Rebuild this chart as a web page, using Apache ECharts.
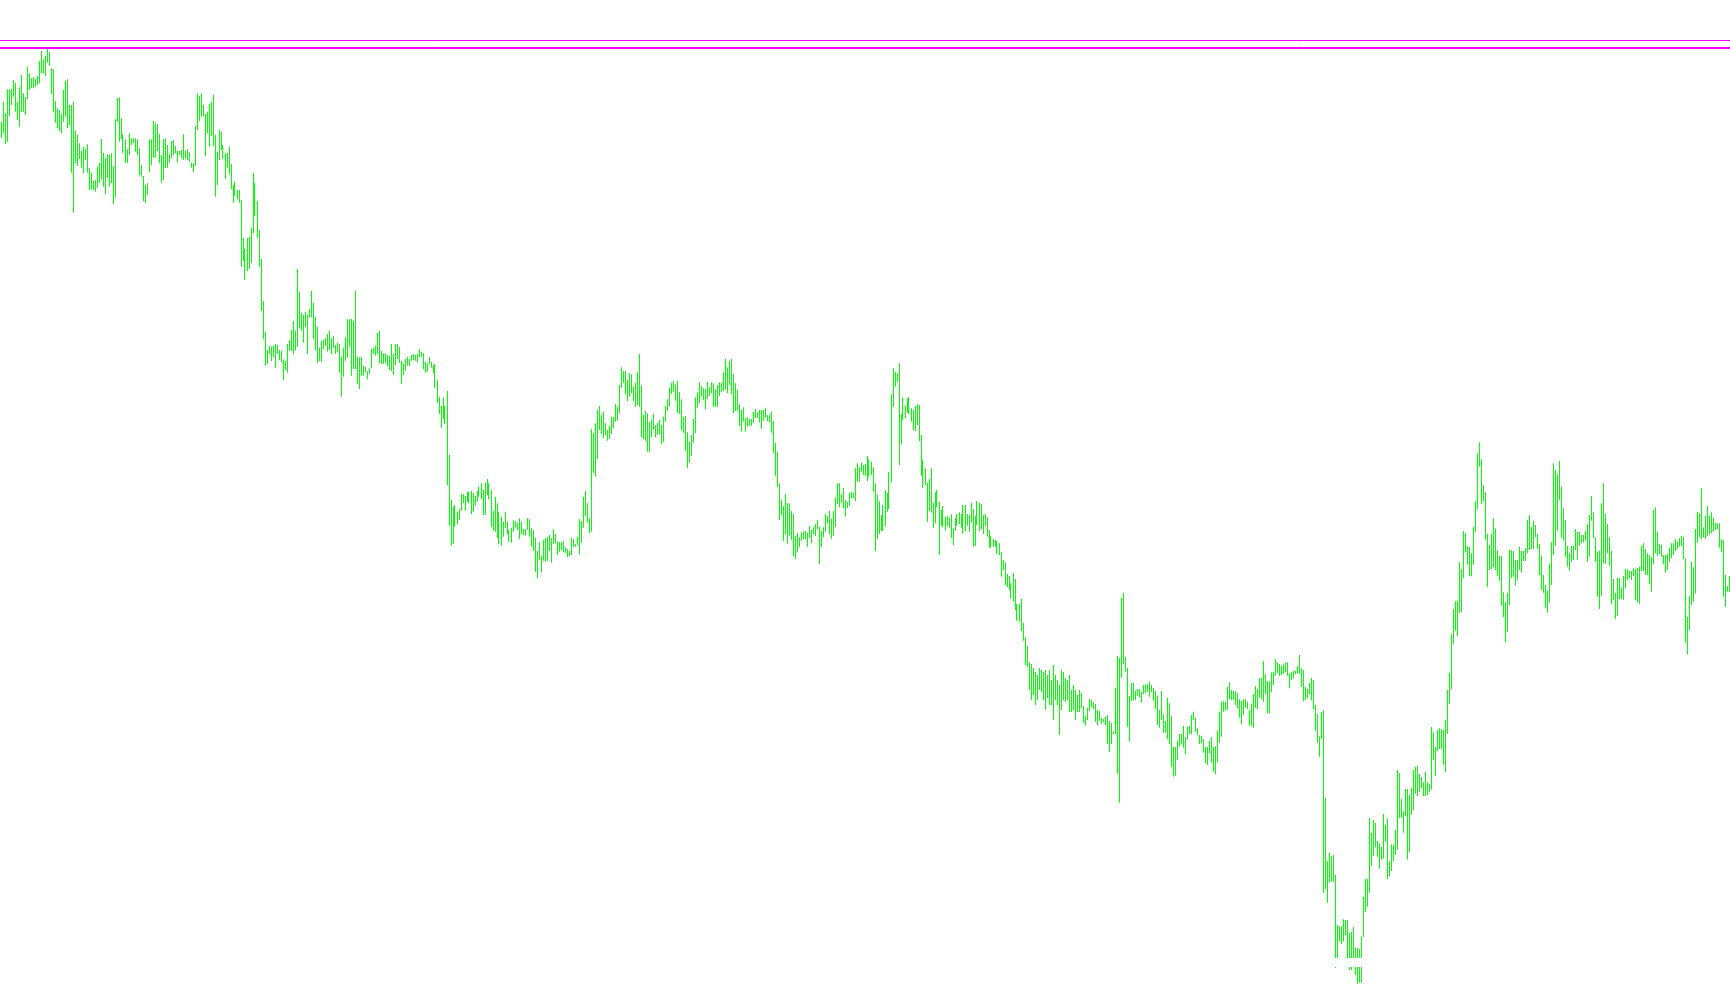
<!DOCTYPE html>
<html>
<head>
<meta charset="utf-8">
<script src="https://cdn.jsdelivr.net/npm/echarts/dist/echarts.min.js"></script>
<style>
html,body{margin:0;padding:0;background:#ffffff;overflow:hidden}
#chart{width:1730px;height:1005px}
</style>
</head>
<body>
<div id="chart"></div>
<script>
// Bar highs (price units, 0..3015 scale)
const barHigh = [
2650,2710,2675,2747,2747,2747,2775,2767,2710,2753,
2790,2735,2723,2815,2795,2780,2783,2779,2787,2832,
2862,2837,2847,2868,2858,2810,2807,2712,2690,2685,
2673,2745,2772,2777,2700,2700,2710,2623,2610,2585,
2562,2575,2570,2582,2512,2497,2472,2475,2515,2527,
2598,2557,2540,2552,2550,2555,2517,2657,2720,2723,
2660,2612,2597,2567,2615,2600,2600,2600,2597,2570,
2520,2487,2460,2465,2597,2597,2652,2645,2642,2613,
2550,2597,2600,2580,2552,2592,2595,2577,2562,2562,
2565,2612,2562,2567,2558,2527,2525,2637,2735,2727,
2735,2700,2673,2680,2703,2710,2730,2610,
2560,2625,2620,2580,2555,2557,2575,2523,2460,2470,
2445,2445,2415,2302,2268,2302,2305,2332,2497,2467,
2413,2325,2238,2112,2020,1965,1978,1975,1978,1983,
1980,1965,1962,1937,1932,1983,1995,2025,2052,2023,
2208,2140,2077,2070,2080,2070,2088,2143,2107,2065,
2035,1972,1993,1995,2002,2013,2023,2000,2007,1980,
1987,1983,1945,1972,2002,2057,2057,2058,2053,2143,
1945,1943,1945,1918,1915,1902,1910,1968,1972,1978,
2017,2023,1962,1955,1955,1950,1947,1983,1953,1983,
1983,1975,1932,1925,1938,1945,1938,1950,1953,1950,
1953,1968,1960,1955,1930,1925,1945,1930,
1920,1923,1875,1825,1797,1823,1797,1842,1650,1515,
1495,1500,1480,1487,1533,1533,1527,1540,1540,1542,
1537,1527,1543,1555,1565,1545,1567,1578,1565,1545,
1483,1525,1505,1480,1465,1450,1480,1450,1425,1432,
1455,1452,1445,1460,1450,1428,1428,1460,1457,1430,
1425,1402,1363,1390,1347,1395,1400,1405,1410,1400,
1427,1413,1390,1390,1388,1392,1373,1368,1363,1402,
1397,1383,1405,1458,1452,1525,1542,1505,1460,1728,
1717,1745,1785,1797,1770,1780,1745,1725,1737,1765,
1763,1803,1795,1860,1913,1902,1902,1875,1895,1892,
1855,1867,1898,1953,1858,1770,1783,1775,
1748,1755,1773,1740,1747,1755,1740,1765,1797,1817,
1852,1867,1872,1862,1872,1838,1817,1763,1767,1718,
1690,1710,1758,1823,1838,1868,1858,1850,1847,1870,
1853,1868,1865,1847,1860,1868,1867,1898,1938,1913,
1932,1938,1893,1865,1845,1802,1785,1793,1760,1763,
1758,1758,1780,1788,1778,1785,1785,1785,1792,1770,
1770,1780,1752,1687,1660,1565,1515,1498,1532,1505,
1505,1482,1473,1407,1417,1403,1418,1420,1422,1417,
1437,1425,1433,1443,1455,1435,1422,1433,1473,1467,
1482,1458,1482,1522,1565,1565,1532,1552,1515,1510,
1537,1540,1537,1610,1625,1613,1628,1620,
1623,1647,1637,1630,1613,1565,1532,1512,1470,1500,
1545,1537,1600,1832,1910,1900,1895,1925,1772,1823,
1797,1820,1823,1790,1785,1797,1802,1800,1710,1635,
1610,1567,1578,1610,1507,1538,1545,1510,1485,1497,
1465,1467,1462,1472,1430,1460,1473,1478,1472,1500,
1500,1473,1470,1507,1488,1467,1512,1507,1503,1470,
1473,1463,1425,1407,1398,1395,1392,1385,1358,1335,
1328,1293,1287,1265,1297,1278,1203,1203,1218,1147,
1103,1077,1029,1023,1011,999,990,1011,1005,999,
1005,990,1005,975,1020,990,975,960,1005,999,
981,975,990,945,960,945,930,945,
937,897,867,892,918,915,910,903,885,882,
862,858,865,870,852,847,820,952,1048,1042,
1222,1237,1045,1012,927,967,967,943,948,948,
940,960,962,962,970,960,952,942,928,885,
942,872,852,922,905,867,775,775,793,813,
813,838,803,835,838,870,880,862,830,810,
808,798,775,775,792,803,775,777,823,880,
910,912,910,955,968,945,943,942,935,917,
912,917,917,910,885,904,933,957,947,982,
982,1032,992,972,970,998,998,1038,1028,1023,
1017,1022,1028,1028,995,998,1003,1002,
1016,1050,1010,1005,954,948,967,982,975,900,
873,806,879,884,621,432,457,447,450,391,
241,236,236,257,255,255,216,220,234,171,
171,168,206,324,378,378,562,516,555,546,
493,485,474,573,541,560,431,482,480,525,
705,696,618,581,648,648,630,651,705,715,
718,693,684,668,699,668,664,834,818,775,
825,830,827,825,855,945,996,1112,1187,1211,
1213,1329,1307,1422,1416,1377,1374,1355,1434,1511,
1655,1688,1637,1559,1538,1414,1380,1414,1460,1430,
1364,1347,1347,1238,1208,1235,1366,1364,
1362,1335,1335,1375,1362,1362,1370,1455,1470,1433,
1452,1440,1413,1383,1347,1290,1260,1242,1323,1388,
1625,1605,1592,1632,1555,1490,1455,1377,1355,1377,
1377,1428,1420,1420,1410,1410,1422,1443,1470,1527,
1478,1403,1360,1363,1505,1565,1473,1443,1403,1363,
1278,1237,1282,1282,1252,1287,1307,1307,1302,1303,
1310,1308,1312,1315,1377,1385,1368,1355,1350,1343,
1485,1493,1420,1383,1380,1350,1350,1353,1372,1385,
1385,1398,1390,1400,1408,1403,1340,1165,1227,1330,
1313,1428,1480,1475,1550,1433,1468,1497,1467,1478,
1460,1447,1445,1445,1397,1395,1290,1257,1287
];

// Bar lows
const barLow = [
2602,2615,2583,2590,2667,2700,2725,2680,2655,2635,
2680,2680,2670,2718,2745,2750,2750,2755,2760,2765,
2795,2795,2787,2827,2817,2732,2680,2647,2630,2622,
2615,2650,2665,2630,2640,2497,2377,2525,2517,2537,
2512,2495,2535,2497,2445,2447,2445,2440,2452,2467,
2477,2455,2432,2480,2455,2465,2402,2422,2650,2590,
2597,2555,2527,2525,2550,2580,2585,2560,2550,2490,
2485,2412,2405,2430,2498,2520,2542,2542,2562,2525,
2467,2475,2510,2512,2527,2540,2550,2555,2527,2550,
2540,2535,2540,2535,2530,2512,2498,2517,2625,2652,
2665,2667,2547,2615,2575,2607,2577,2425,
2460,2535,2565,2538,2478,2512,2493,2448,2407,2428,
2418,2407,2215,2233,2175,2202,2208,2227,2315,2368,
2302,2215,2083,1998,1918,1923,1953,1932,1943,1912,
1953,1935,1928,1875,1905,1897,1963,1963,1953,1963,
1975,2030,2023,1987,2035,1953,2062,2063,1998,1965,
1927,1932,1930,1967,1978,1960,1965,1953,1972,1953,
1958,1897,1825,1885,1933,1942,1975,1888,1908,1908,
1863,1848,1888,1888,1898,1877,1893,1910,1953,1948,
1953,1925,1923,1923,1927,1917,1905,1902,1890,1920,
1938,1927,1863,1890,1903,1918,1917,1933,1935,1933,
1927,1943,1945,1907,1897,1900,1922,1912,
1895,1852,1805,1773,1732,1758,1743,1560,1438,1378,
1383,1435,1442,1455,1483,1505,1483,1510,1505,1472,
1480,1498,1510,1525,1517,1470,1470,1530,1517,1435,
1423,1420,1400,1382,1378,1405,1430,1412,1390,1387,
1420,1432,1425,1398,1412,1410,1408,1425,1405,1375,
1363,1300,1280,1335,1297,1333,1330,1333,1363,1327,
1383,1385,1350,1360,1365,1358,1357,1343,1347,1350,
1375,1375,1380,1352,1387,1432,1467,1447,1415,1420,
1597,1585,1638,1725,1713,1700,1710,1693,1698,1712,
1730,1750,1753,1775,1852,1867,1833,1812,1825,1835,
1812,1795,1800,1795,1703,1697,1693,1660,
1660,1703,1725,1703,1710,1713,1683,1690,1750,1782,
1795,1833,1840,1813,1777,1773,1725,1717,1663,1610,
1627,1648,1687,1715,1792,1805,1825,1815,1787,1817,
1827,1835,1795,1795,1795,1827,1838,1842,1847,1835,
1860,1833,1775,1782,1783,1737,1720,1750,1720,1735,
1737,1738,1745,1760,1762,1748,1728,1753,1762,1752,
1748,1717,1657,1588,1555,1455,1470,1392,1412,1383,
1408,1395,1347,1338,1358,1373,1393,1398,1397,1375,
1402,1385,1412,1407,1428,1323,1373,1403,1420,1445,
1412,1398,1408,1435,1502,1493,1507,1490,1465,1490,
1498,1520,1520,1512,1570,1570,1600,1590,
1588,1572,1585,1590,1540,1362,1398,1413,1422,1422,
1437,1480,1488,1568,1795,1855,1870,1620,1683,1755,
1760,1777,1773,1750,1725,1722,1740,1692,1588,1552,
1560,1450,1483,1477,1432,1445,1493,1350,1438,1433,
1423,1437,1432,1402,1380,1423,1438,1442,1432,1413,
1422,1438,1420,1447,1375,1377,1440,1422,1428,1413,
1437,1405,1372,1372,1375,1375,1353,1350,1285,1305,
1260,1253,1245,1220,1210,1185,1153,1150,1122,1093,
1020,1015,945,915,930,900,915,945,939,915,
885,921,900,900,855,915,900,810,885,915,
909,915,879,879,885,855,879,879,
890,847,838,855,882,893,887,850,840,853,
843,848,840,782,758,782,812,812,693,607,
982,1022,1000,835,790,913,913,915,928,923,
907,933,935,940,925,938,913,887,840,832,
855,817,817,798,782,715,685,688,735,775,
782,772,752,797,813,812,855,820,810,783,
785,757,725,720,755,727,700,692,728,787,
805,880,883,885,917,915,915,900,890,862,
842,870,892,888,838,838,832,892,887,922,
917,910,933,875,875,938,960,988,995,987,
990,992,998,988,950,975,980,992,
994,994,954,911,914,921,932,914,887,823,
787,745,798,337,348,307,367,370,370,111,
129,193,182,190,209,129,105,105,129,91,
64,67,67,204,279,295,337,418,447,474,
445,409,436,439,490,377,386,402,431,450,
466,560,562,517,566,436,459,571,584,634,
627,640,651,627,627,630,638,646,736,686,
761,768,768,721,700,814,902,948,1084,1123,
1107,1176,1179,1280,1358,1321,1286,1286,1321,1420,
1487,1615,1502,1511,1396,1254,1305,1307,1313,1305,
1288,1273,1198,1163,1088,1120,1200,1280,
1285,1258,1275,1305,1297,1332,1332,1355,1365,1368,
1368,1403,1368,1290,1245,1237,1192,1177,1207,1260,
1350,1378,1423,1515,1402,1395,1345,1315,1303,1330,
1335,1365,1335,1378,1385,1388,1393,1330,1345,1453,
1400,1330,1225,1188,1228,1325,1323,1355,1318,1202,
1215,1158,1168,1218,1218,1215,1250,1275,1280,1275,
1287,1215,1208,1203,1302,1303,1290,1290,1262,1240,
1323,1355,1348,1353,1345,1323,1297,1305,1328,1340,
1350,1362,1368,1375,1377,1337,1087,1052,1125,1200,
1210,1235,1387,1403,1397,1403,1398,1407,1412,1415,
1420,1425,1428,1372,1360,1225,1195,1240,1240
];

// Horizontal levels
const upperLevel = 2893.5;
const lowerLevel = 2871;
const gapLevel = 128.5;

const priceMin = 0;
const priceMax = 3015;

const barColor = '#00ff00';
const levelColor = '#ff00ff';

const barIndex = barHigh.map(function (_, i) { return i; });
const seriesData = barHigh.map(function (h, i) { return [i, h, barLow[i]]; });

const chart = echarts.init(document.getElementById('chart'), null, { renderer: 'canvas' });
chart.setOption({
  animation: false,
  backgroundColor: '#ffffff',
  grid: { left: 0, right: 0, top: 0, bottom: 0 },
  xAxis: { type: 'category', data: barIndex, show: false, boundaryGap: true },
  yAxis: { type: 'value', min: priceMin, max: priceMax, show: false },
  series: [{
    type: 'custom',
    data: seriesData,
    encode: { x: 0, y: [1, 2] },
    renderItem: function (params, api) {
      const top = api.coord([api.value(0), api.value(1)]);
      const bot = api.coord([api.value(0), api.value(2)]);
      return {
        type: 'rect',
        shape: { x: Math.floor(top[0]), y: top[1], width: 1, height: bot[1] - top[1] },
        style: { fill: barColor }
      };
    },
    markLine: {
      silent: true,
      symbol: ['none', 'none'],
      label: { show: false },
      emphasis: { disabled: true },
      animation: false,
      data: [
        { yAxis: upperLevel, lineStyle: { color: levelColor, width: 1, type: 'solid' } },
        { yAxis: lowerLevel, lineStyle: { color: levelColor, width: 2, type: 'solid' } },
        { yAxis: gapLevel, lineStyle: { color: '#ffffff', width: 9, type: 'solid' } }
      ]
    }
  }]
});
</script>
</body>
</html>
